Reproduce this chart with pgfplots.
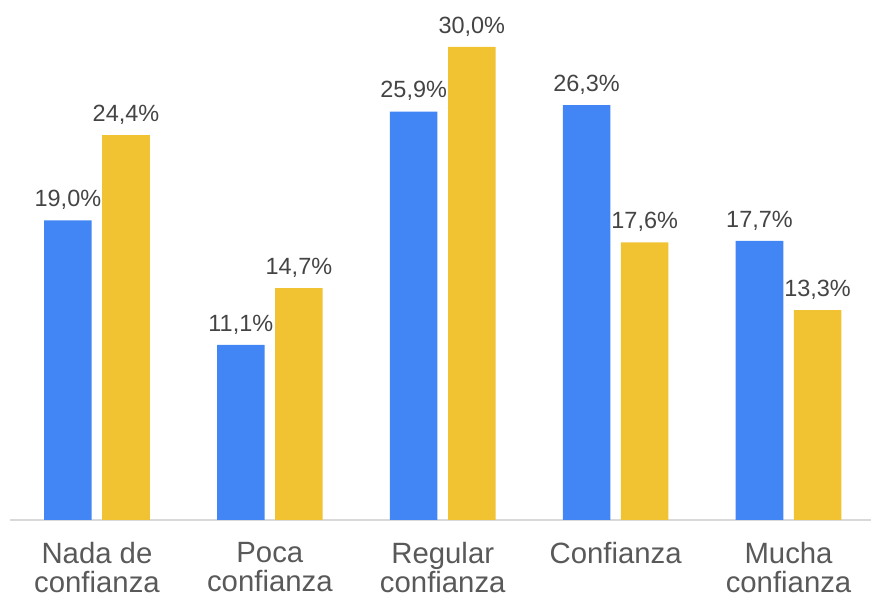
\documentclass[border=0pt]{standalone}
\usepackage{pgfplots}
\pgfplotsset{compat=1.18}
\usepackage{fontspec}
\setmainfont{Liberation Sans}
\definecolor{gblue}{HTML}{4285F4}
\definecolor{gyellow}{HTML}{F1C232}
\definecolor{lbl}{HTML}{444444}
\definecolor{xlbl}{HTML}{595959}
\definecolor{axline}{HTML}{D9D9D9}

\begin{document}
\begin{tikzpicture}
\begin{axis}[
  at={(7.5pt,62.25pt)}, anchor=south west,
  scale only axis,
  width=645.75pt, height=390pt,
  xmin=-0.503, xmax=4.477,
  ymin=0, ymax=32.97,
  axis y line=none,
  axis x line*=bottom,
  x axis line style={axline, line width=1.2pt, -},
  xtick={0,1,2,3,4},
  xticklabels={{Nada de\\confianza},{Poca\\confianza},{Regular\\confianza},{Confianza},{Mucha\\confianza}},
  xticklabel style={align=center, text=xlbl, font=\fontsize{22}{22}\selectfont, anchor=north, yshift=-13pt},
  major tick length=0pt,
  ybar, bar width=0.275,
  clip=false,
  /pgf/number format/assume math mode=true,
  nodes near coords={\pgfmathprintnumber[fixed,fixed zerofill,precision=1,use comma]{\pgfplotspointmeta}\%},
  every node near coord/.append style={anchor=base, yshift=13.5pt-0.333em, text=lbl, font=\fontsize{17.6}{20}\selectfont},
]
\addplot[fill=gblue, draw=none, bar shift=-0.168] coordinates {(0,19.0) (1,11.1) (2,25.9) (3,26.3) (4,17.7)};
\addplot[fill=gyellow, draw=none, bar shift=0.168] coordinates {(0,24.4) (1,14.7) (2,30.0) (3,17.6) (4,13.3)};
\end{axis}
\pgfresetboundingbox
\path (0pt,0pt) rectangle (653.25pt,452.25pt);
\end{tikzpicture}
\end{document}
